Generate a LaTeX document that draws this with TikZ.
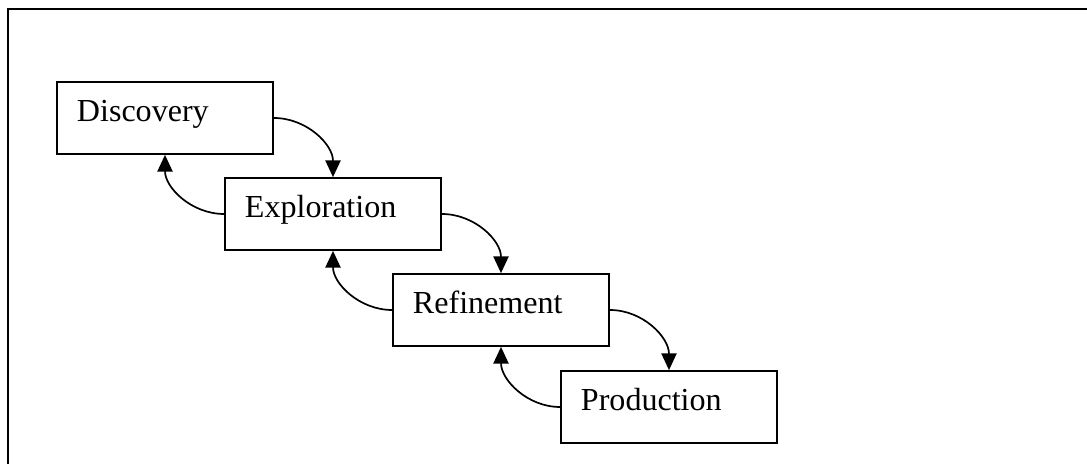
\documentclass[tikz,border=0pt]{standalone}
\usepackage{fontspec}
\setmainfont{Liberation Serif}
\usetikzlibrary{arrows.meta}

\tikzstyle{stage}=[draw, rectangle, line width=1.2pt, minimum height=1.8cm, text width=4.4cm, inner xsep=0.5cm, align=left, text height=0.7em, text depth=0.22em, font=\fontsize{22.8}{27}\selectfont]
\tikzstyle{edge} = [draw, line width=1.2pt, -{Triangle[length=0.42cm,width=0.38cm]}]
\tikzstyle{frame} = [draw, line width=1.2pt]

\begin{document}
\begin{tikzpicture}[x=0.025cm,y=-0.025cm]
\useasboundingbox (0,0) rectangle (1087,464);
\draw[frame] (8,470) -- (8,9) -- (1095,9);

\node[stage] (disc) at (165,118) {Discovery};
\node[stage] (expl) at (333,214) {Exploration};
\node[stage] (refi) at (501,310) {Refinement};
\node[stage] (prod) at (669,407) {Production};

\draw[edge] (disc.east) to[out=0,in=90] (expl.north);
\draw[edge] (expl.east) to[out=0,in=90] (refi.north);
\draw[edge] (refi.east) to[out=0,in=90] (prod.north);

\draw[edge] (expl.west) to[out=180,in=270] (disc.south);
\draw[edge] (refi.west) to[out=180,in=270] (expl.south);
\draw[edge] (prod.west) to[out=180,in=270] (refi.south);
\end{tikzpicture}
\end{document}
